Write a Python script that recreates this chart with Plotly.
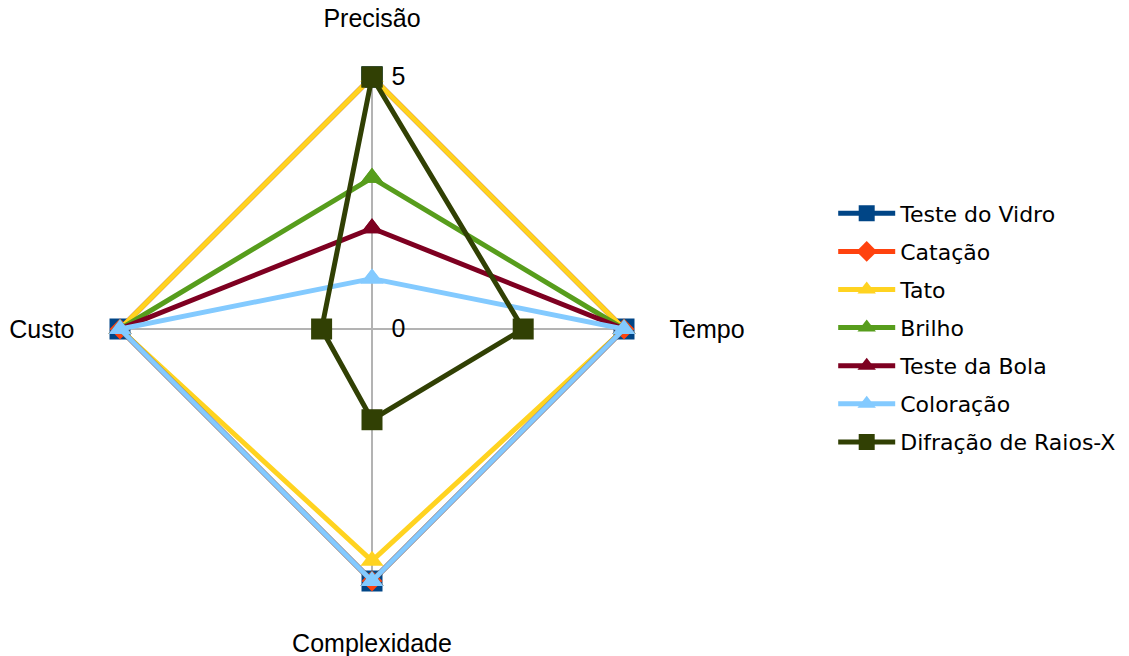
import plotly.graph_objects as go

# Criteria (clockwise from the top) and scores per method, 0-5 scale
criteria = ["Precisão", "Tempo", "Complexidade", "Custo"]

teste_do_vidro = [5, 5, 5, 5]
catacao = [5, 5, 5, 5]
tato = [5, 5, 4.6, 5]
brilho = [3, 5, 5, 5]
teste_da_bola = [2, 5, 5, 5]
coloracao = [1, 5, 5, 5]
difracao_raios_x = [5, 3, 1.8, 1]

series = [
    ("Teste do Vidro", teste_do_vidro, "#004586", "square", 21),
    ("Catação", catacao, "#ff420e", "diamond", 16),
    ("Tato", tato, "#ffd320", "triangle-up", 20),
    ("Brilho", brilho, "#579d1c", "triangle-up", 20),
    ("Teste da Bola", teste_da_bola, "#7e0021", "triangle-up", 20),
    ("Coloração", coloracao, "#83caff", "triangle-up", 20),
    ("Difração de Raios-X", difracao_raios_x, "#314004", "square", 21),
]

fig = go.Figure()
for name, vals, color, symbol, size in series:
    fig.add_trace(go.Scatterpolar(
        r=vals + vals[:1],
        theta=criteria + criteria[:1],
        mode="lines+markers",
        name=name,
        legendgroup=name,
        line=dict(color=color, width=5),
        marker=dict(color=color, symbol=symbol, size=size),
        cliponaxis=False,
    ))

W, H = 1129, 656
cx, cy, rad = 372, 329, 252

fig.update_layout(
    width=W,
    height=H,
    margin=dict(l=0, r=0, t=0, b=0),
    paper_bgcolor="white",
    plot_bgcolor="white",
    font=dict(family="Liberation Sans, Arial, sans-serif", color="black"),
    polar=dict(
        domain=dict(
            x=[(cx - rad) / W, (cx + rad) / W],
            y=[(H - cy - rad) / H, (H - cy + rad) / H],
        ),
        bgcolor="white",
        angularaxis=dict(
            type="category",
            direction="clockwise",
            rotation=90,
            showline=False,
            showgrid=True,
            gridcolor="#b3b3b3",
            gridwidth=2,
            ticks="outside",
            ticklen=40,
            tickcolor="rgba(0,0,0,0)",
            tickfont=dict(size=25, family="Liberation Sans, Arial, sans-serif"),
        ),
        radialaxis=dict(
            range=[0, 5],
            angle=90,
            tickangle=90,
            tickvals=[0, 5],
            ticktext=["0", "5"],
            ticks="outside",
            ticklen=14,
            tickcolor="rgba(0,0,0,0)",
            showline=False,
            showgrid=False,
            tickfont=dict(size=25, family="Liberation Sans, Arial, sans-serif"),
        ),
    ),
    legend=dict(
        x=0.738,
        y=0.5,
        xanchor="left",
        yanchor="middle",
        traceorder="grouped",
        tracegroupgap=6.5,
        itemwidth=57,
        font=dict(size=22, family="DejaVu Sans, sans-serif"),
        bgcolor="rgba(0,0,0,0)",
    ),
    showlegend=True,
)

fig.write_html("out.html")
